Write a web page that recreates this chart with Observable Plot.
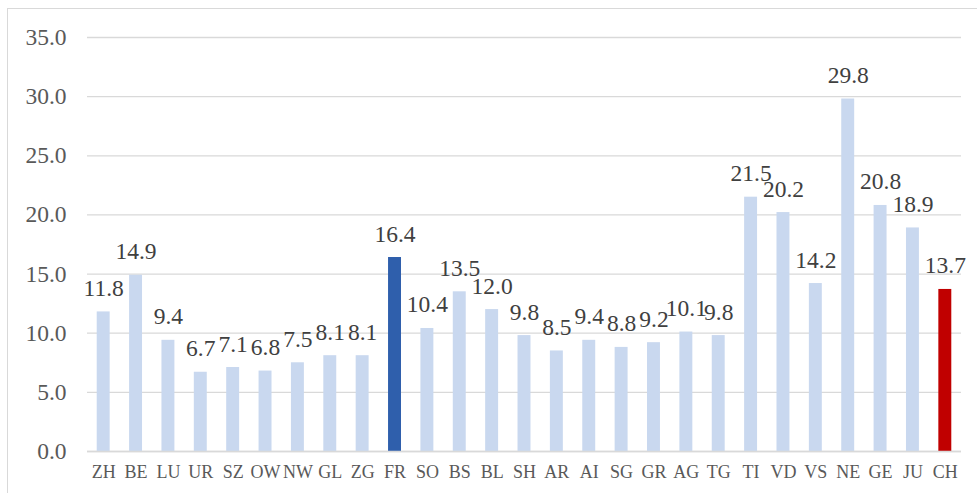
<!DOCTYPE html>
<html>
<head>
<meta charset="utf-8">
<script src="https://cdn.jsdelivr.net/npm/d3@7"></script>
<script src="https://cdn.jsdelivr.net/npm/@observablehq/plot@0.6"></script>
<style>
  html, body { margin: 0; padding: 0; background: #fff; }
  #wrap { position: relative; width: 977px; height: 493px; overflow: hidden; }
  #frame { position: absolute; left: 7px; top: 8px; right: -5px; bottom: -5px; border: 1px solid #D9D9D9; pointer-events: none; }
  #chart svg { display: block; }
  #chart svg, #chart svg text { font-family: "Liberation Serif", "Times New Roman", serif !important; }
</style>
</head>
<body>
<div id="wrap"><div id="chart"></div><div id="frame"></div></div>
<script>
const cantons = ["ZH","BE","LU","UR","SZ","OW","NW","GL","ZG","FR","SO","BS","BL","SH","AR","AI","SG","GR","AG","TG","TI","VD","VS","NE","GE","JU","CH"];
const values = [11.8,14.9,9.4,6.7,7.1,6.8,7.5,8.1,8.1,16.4,10.4,13.5,12.0,9.8,8.5,9.4,8.8,9.2,10.1,9.8,21.5,20.2,14.2,29.8,20.8,18.9,13.7];
const yTicks = [0,5,10,15,20,25,30,35];
const focusCanton = "FR";
const nationalTotal = "CH";

const data = cantons.map((c, i) => ({
  canton: c,
  value: values[i],
  group: c === focusCanton ? "focus" : c === nationalTotal ? "national" : "other"
}));

const serif = "Liberation Serif";

const chart = Plot.plot({
  width: 977,
  height: 493,
  marginLeft: 87,
  marginRight: 16,
  marginTop: 37,
  marginBottom: 42,
  style: { fontFamily: serif, background: "transparent" },
  x: { domain: cantons, paddingInner: 0.6, paddingOuter: 0.3, round: false, label: null, tickSize: 0, tickPadding: 14 },
  y: { domain: [0, 35], ticks: yTicks, label: null, tickSize: 0, tickPadding: 21, tickFormat: d => d.toFixed(1) },
  color: { domain: ["other", "focus", "national"], range: ["#C9D8EF", "#2F5FAC", "#C00000"] },
  marks: [
    Plot.gridY(yTicks, { stroke: "#D9D9D9", strokeOpacity: 1, strokeWidth: 1.3 }),
    Plot.barY(data, { x: "canton", y: "value", fill: "group" }),
    Plot.ruleY([0], { stroke: "#D9D9D9", strokeWidth: 1.5 }),
    Plot.text(data, { x: "canton", y: "value", text: d => d.value.toFixed(1), lineAnchor: "bottom", dy: -16, fontSize: 23.5, fontFamily: serif, fill: "#404040" }),
    Plot.axisY({ ticks: yTicks, tickSize: 0, tickPadding: 21, tickFormat: d => d.toFixed(1), fontSize: 23.5, fontFamily: serif, fill: "#595959", label: null }),
    Plot.axisX({ tickSize: 0, tickPadding: 14, fontSize: 18, fontFamily: serif, fill: "#595959", label: null })
  ]
});
document.getElementById("chart").appendChild(chart);
</script>
</body>
</html>
